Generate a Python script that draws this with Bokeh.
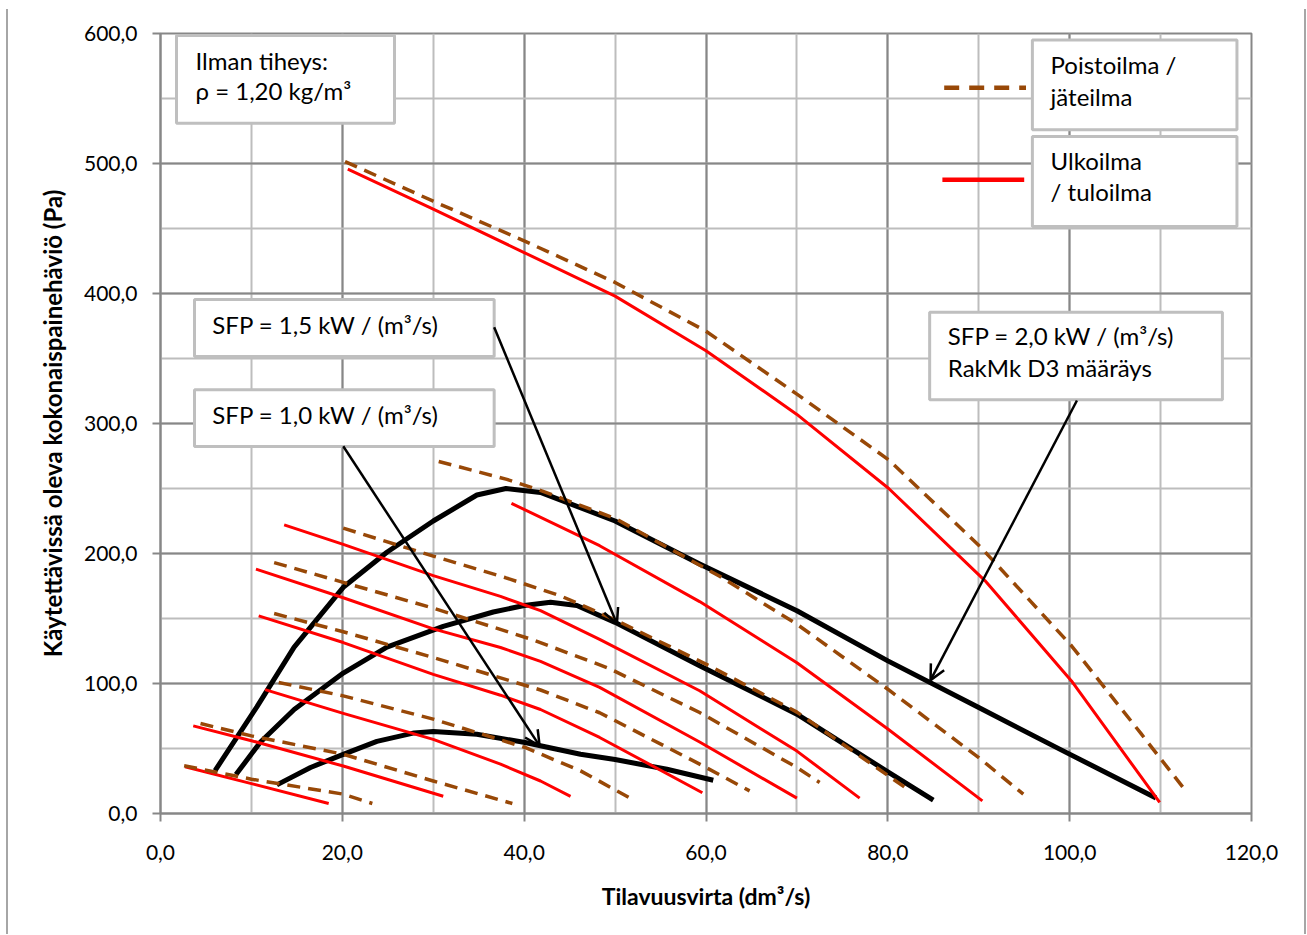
from bokeh.plotting import figure
from bokeh.models import (SingleIntervalTicker, CustomJSTickFormatter, Range1d,
                          Arrow, OpenHead)
from bokeh.core.properties import value
from bokeh.embed import file_html
from bokeh.resources import INLINE

# ---------------- data ----------------
# Supply air fan curves (Ulkoilma / tuloilma), red solid
supply_x = [
    [2.7, 10.0, 18.5],
    [3.6, 10.0, 20.1, 31.1],
    [11.5, 20.1, 30.0, 37.4, 41.8, 45.1],
    [10.8, 20.1, 30.0, 37.4, 41.8, 48.3, 59.6],
    [10.5, 20.1, 30.0, 37.4, 41.8, 48.3, 59.3, 70.0],
    [13.6, 20.1, 30.0, 37.4, 41.8, 48.3, 59.3, 70.0, 76.9],
    [38.6, 48.3, 59.3, 70.0, 80.0, 90.4],
    [20.6, 30.0, 40.0, 50.0, 60.0, 70.0, 80.1, 90.7, 100.2, 109.9],
]
supply_y = [
    [36.0, 23.0, 7.7],
    [67.4, 56.0, 36.5, 13.3],
    [95.3, 77.0, 57.0, 38.0, 25.0, 13.2],
    [152.0, 131.5, 107.0, 91.0, 80.0, 58.5, 16.0],
    [188.0, 166.0, 142.0, 127.7, 117.0, 97.0, 55.0, 11.8],
    [222.0, 207.0, 183.0, 167.0, 156.0, 134.0, 94.4, 48.0, 11.8],
    [238.6, 206.0, 163.0, 116.0, 65.0, 9.7],
    [495.6, 464.9, 431.5, 398.0, 356.0, 307.0, 250.0, 179.0, 102.0, 8.5],
]

# Exhaust air fan curves (Poistoilma / jateilma), brown dashed
exhaust_x = [
    [2.6, 10.0, 20.1, 23.3],
    [4.4, 10.0, 20.1, 30.0, 38.7],
    [13.0, 20.1, 30.0, 40.1, 46.2, 52.2],
    [12.5, 20.0, 30.0, 41.8, 48.3, 59.3, 64.8],
    [12.5, 20.0, 30.0, 40.8, 49.2, 59.3, 70.0, 72.5],
    [20.1, 30.0, 37.9, 44.0, 50.0, 60.4, 70.0, 81.9],
    [30.6, 38.1, 42.0, 50.0, 61.5, 70.0, 80.0, 90.0, 94.9],
    [20.3, 30.0, 40.0, 50.0, 60.0, 70.0, 80.1, 90.2, 100.2, 107.9, 112.9],
]
exhaust_y = [
    [36.7, 26.4, 14.9, 7.7],
    [69.2, 59.7, 45.6, 25.0, 7.7],
    [100.8, 90.5, 72.6, 50.8, 32.8, 9.7],
    [153.8, 140.0, 120.0, 95.0, 77.5, 38.0, 17.4],
    [193.0, 178.0, 158.0, 134.0, 112.0, 77.7, 35.4, 23.8],
    [219.5, 198.0, 181.5, 167.4, 149.0, 113.5, 78.0, 20.0],
    [270.8, 257.0, 248.0, 227.0, 182.5, 145.6, 95.6, 43.0, 14.9],
    [501.5, 471.0, 440.5, 408.5, 371.0, 322.6, 272.0, 205.0, 129.0, 61.0, 16.2],
]

# SFP limit curves, black thick
sfp_x = [
    [12.8, 16.5, 20.1, 23.8, 27.9, 30.0, 34.8, 40.1, 46.2, 50.0, 55.7, 60.8],
    [8.3, 11.0, 14.7, 20.1, 24.9, 31.1, 36.6, 40.0, 42.9, 45.8, 50.0, 59.3, 70.0, 80.0, 85.0],
    [6.0, 10.6, 14.7, 20.1, 24.9, 30.0, 34.8, 38.0, 41.8, 50.0, 59.3, 70.0, 80.0, 90.0, 98.9, 109.5],
]
sfp_y = [
    [22.0, 35.4, 45.5, 55.5, 62.0, 63.0, 61.0, 54.6, 45.6, 41.5, 34.0, 25.6],
    [30.0, 55.0, 80.0, 108.0, 128.0, 144.0, 155.0, 160.0, 162.5, 160.0, 147.0, 113.6, 76.4, 32.0, 10.3],
    [33.0, 82.0, 128.0, 174.0, 201.0, 225.0, 245.0, 250.0, 247.0, 225.0, 192.0, 156.0, 117.4, 81.5, 49.5, 12.0],
]

# axis ticks
x_ticks = [0, 20, 40, 60, 80, 100, 120]
y_ticks = [0, 100, 200, 300, 400, 500, 600]

# annotation boxes (data coordinates)
box_left = [1.76, 95.9, 95.9, 84.6, 3.74, 3.74]
box_right = [25.74, 118.4, 118.4, 116.8, 36.7, 36.7]
box_top = [598.5, 595.0, 520.8, 385.6, 395.4, 326.0]
box_bottom = [531.0, 526.0, 451.5, 318.2, 351.5, 282.3]

note_text = ["Ilman tiheys:", "\u03c1 = 1,20 kg/m\u00b3",
             "Poistoilma /", "j\u00e4teilma",
             "Ulkoilma", "/ tuloilma",
             "SFP = 2,0 kW / (m\u00b3/s)", "RakMk D3 m\u00e4\u00e4r\u00e4ys",
             "SFP = 1,5 kW / (m\u00b3/s)", "SFP = 1,0 kW / (m\u00b3/s)"]
note_x = [3.85, 3.85, 97.9, 97.9, 97.9, 97.9, 86.6, 86.6, 5.7, 5.7]
note_y = [579.3, 555.8, 576.5, 551.8, 502.4, 478.2, 367.5, 343.0, 375.8, 306.8]

# legend samples
legend_dash_x = [86.2, 95.2]
legend_dash_y = [558.2, 558.2]
legend_red_x = [86.0, 95.0]
legend_red_y = [487.5, 487.5]

# arrows from labels to SFP curves
arrow_x0 = [36.7, 20.1, 100.8]
arrow_y0 = [374.0, 282.5, 317.7]
arrow_x1 = [50.2, 41.7, 84.7]
arrow_y1 = [146.0, 52.0, 102.6]

# ---------------- figure ----------------
FONT = "Lato"
GRID_MAJOR = "#878787"
GRID_MINOR = "#bdbdbd"

p = figure(width=1296, height=925, output_backend="svg", toolbar_location=None,
           x_range=Range1d(0, 120), y_range=Range1d(0, 600),
           min_border_left=152, min_border_right=53, min_border_top=24,
           min_border_bottom=121)
p.styles = {"margin-left": "8px", "margin-top": "9px",
            "box-shadow": "-2px 0 0 0 #a6a6a6, 2px 0 0 0 #a6a6a6"}
p.background_fill_color = "white"
p.border_fill_color = "white"
p.outline_line_color = GRID_MAJOR
p.outline_line_width = 2

xt = SingleIntervalTicker(interval=20, num_minor_ticks=2)
yt = SingleIntervalTicker(interval=100, num_minor_ticks=2)
p.xaxis.ticker = xt
p.yaxis.ticker = yt
p.xgrid.ticker = xt
p.ygrid.ticker = yt
for g in (p.xgrid, p.ygrid):
    g.grid_line_color = GRID_MAJOR
    g.grid_line_width = 2
    g.minor_grid_line_color = GRID_MINOR
    g.minor_grid_line_width = 2

fmt = CustomJSTickFormatter(code="return tick.toFixed(1).replace('.', ',');")
for ax in (p.xaxis, p.yaxis):
    ax.formatter = fmt
    ax.axis_line_color = GRID_MAJOR
    ax.axis_line_width = 2
    ax.major_tick_line_color = GRID_MAJOR
    ax.major_tick_line_width = 2
    ax.major_tick_in = 0
    ax.major_tick_out = 8
    ax.minor_tick_line_color = None
    ax.major_label_text_font = FONT
    ax.major_label_text_font_size = "21px"
    ax.major_label_text_color = "black"
    ax.axis_label_text_font = FONT
    ax.axis_label_text_font_style = "bold"
    ax.axis_label_text_color = "black"

p.xaxis.axis_label_text_font_size = "23px"
p.yaxis.axis_label_text_font_size = "24px"
p.xaxis.axis_label = "Tilavuusvirta (dm\u00b3/s)"
p.yaxis.axis_label = "K\u00e4ytett\u00e4viss\u00e4 oleva kokonaispaineh\u00e4vi\u00f6 (Pa)"
p.xaxis.major_label_standoff = 23
p.yaxis.major_label_standoff = 15
p.xaxis.axis_label_standoff = 19
p.yaxis.axis_label_standoff = 14

# curves
p.multi_line(sfp_x, sfp_y, line_color="black", line_width=5, line_join="round")
p.multi_line(supply_x, supply_y, line_color="#ff0000", line_width=3, line_join="round")
p.multi_line(exhaust_x, exhaust_y, line_color="#984807", line_width=3.5,
             line_dash="13 8", line_join="round")

# boxes and texts
p.quad(left=box_left, right=box_right, top=box_top, bottom=box_bottom,
       fill_color="white", line_color="#bfbfbf", line_width=3)
p.text(x=note_x, y=note_y, text=note_text, text_font=value(FONT),
       text_font_size="24px", text_color="black", text_baseline="alphabetic",
       text_align="left")

# legend samples
p.line(legend_dash_x, legend_dash_y, line_color="#984807", line_width=4.5,
       line_dash="15 10")
p.line(legend_red_x, legend_red_y, line_color="#ff0000", line_width=4.5)

# arrows
for xs, ys, xe, ye in zip(arrow_x0, arrow_y0, arrow_x1, arrow_y1):
    p.add_layout(Arrow(end=OpenHead(size=15, line_width=2.5, line_color="black"),
                       x_start=xs, y_start=ys, x_end=xe, y_end=ye,
                       line_width=2.5, line_color="black"))

open("out.html", "w").write(file_html(p, INLINE))
